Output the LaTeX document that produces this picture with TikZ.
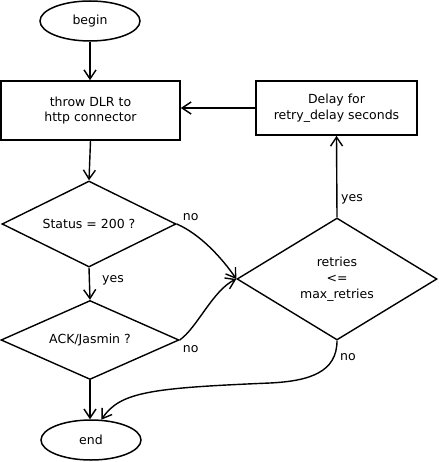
\documentclass[tikz,border=0pt]{standalone}
\usepackage{fontspec}
\setmainfont{DejaVu Sans}
\usetikzlibrary{shapes.geometric,arrows.meta}
\begin{document}
\begin{tikzpicture}[x=1pt,y=-1pt,
  every node/.style={font=\fontsize{12.5}{15.5}\selectfont},
  box/.style={draw, line width=1.7pt, rectangle, inner sep=0pt, align=center},
  term/.style={draw, line width=1.5pt, ellipse, minimum width=100pt, minimum height=40pt, inner sep=0pt},
  dec/.style={draw, line width=1.4pt, diamond, inner sep=0pt},
  txt/.style={inner sep=0pt, align=center},
  conn/.style={line width=1.4pt, -{Straight Barb[length=9pt,width=12pt]}},
  lbl/.style={inner sep=0pt, anchor=west}
]
\useasboundingbox (0,0) rectangle (438,462);
\node[term] (begin) at (90,21) {begin};
\node[box, minimum width=179pt, minimum height=59pt] (throw) at (90.5,110.5) {throw DLR to\\http connector};
\node[box, minimum width=161pt, minimum height=54pt] (delay) at (336.5,108) {Delay for\\retry\_delay seconds};
\node[dec, minimum width=174pt, minimum height=86pt] (status) at (89,224) {};
\node[txt] (statustxt) at (status.center) {Status = 200 ?};
\node[dec, minimum width=178pt, minimum height=79pt] (ack) at (90,340) {};
\node[txt] (acktxt) at (ack.center) {ACK/Jasmin ?};
\node[dec, minimum width=200pt, minimum height=122pt] (retries) at (337,279) {};
\node[txt, font=\fontsize{12.5}{16}\selectfont] (retriestxt) at (retries.center) {retries\\<=\\max\_retries};
\node[term] (end) at (91,440) {end};

\draw[conn] (begin.south) -- (begin.south |- throw.north);
\draw[conn] (throw.south) -- (status.north);
\draw[conn] (delay.west) -- (delay.west -| throw.east);
\draw[conn] (status.south) -- (ack.north);
\node[lbl] (yes1) at ([xshift=13pt,yshift=-13pt]status.south) {yes};
\draw[conn] (status.east) .. controls (200,234) and (222,258) .. (retries.west);
\node[lbl] (no1) at ([xshift=6pt,yshift=7pt]status.east) {no};
\draw[conn] (ack.east) .. controls (197,328) and (213,290) .. (retries.west);
\node[lbl] (no2) at ([xshift=3pt,yshift=-9pt]ack.east) {no};
\draw[conn] (retries.north) -- (delay.south);
\node[lbl] (yes2) at ([xshift=4pt,yshift=18pt]retries.north) {yes};
\draw[conn] (retries.south) .. controls (337,372) and (310,381) .. (270,383) .. controls (150,388) and (120,392) .. (end.63);
\node[lbl] (no3) at ([xshift=3pt,yshift=-16pt]retries.south) {no};
\draw[conn] (ack.south) -- (ack.south |- end.north);
\end{tikzpicture}
\end{document}
